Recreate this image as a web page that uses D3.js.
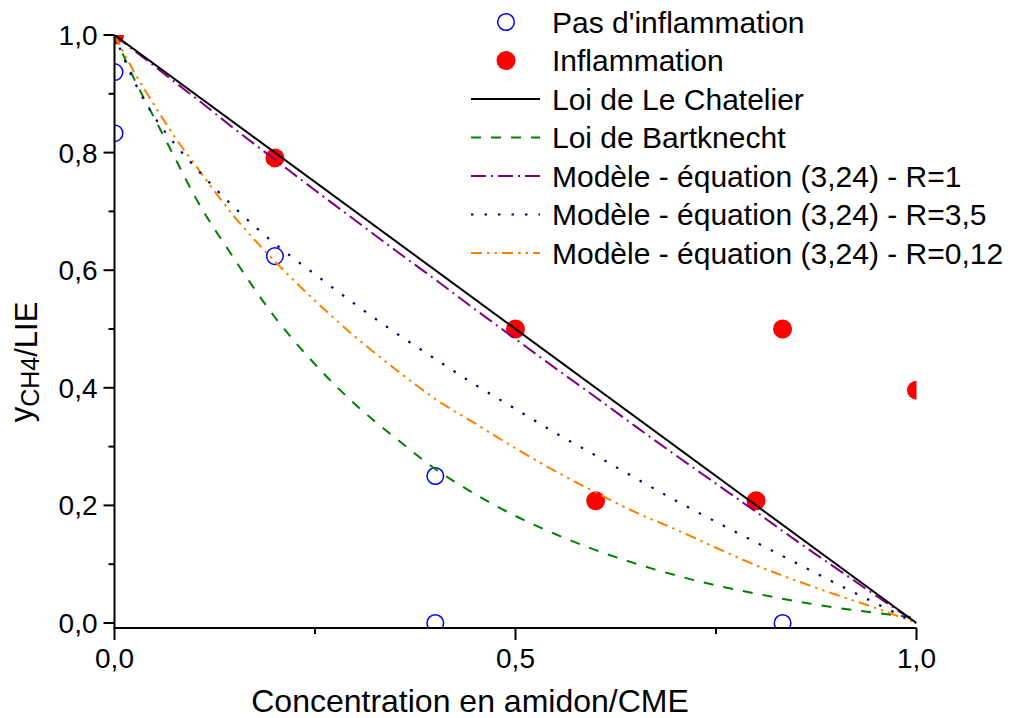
<!DOCTYPE html>
<html>
<head>
<meta charset="utf-8">
<script src="https://cdn.jsdelivr.net/npm/d3@7"></script>
<style>
  html, body { margin: 0; padding: 0; background: #fff; }
  svg { display: block; font-family: "Liberation Sans", Arial, sans-serif; }
</style>
</head>
<body>
<svg id="chart" width="1013" height="718"></svg>
<script>
// ---------- data ----------
const noIgnitionX = [0, 0, 0.2, 0.4, 0.4, 0.833];
const noIgnitionY = [0.937, 0.833, 0.624, 0.25, 0, 0];

const ignitionX = [0, 0.2, 0.5, 0.6, 0.8, 0.833, 1.0];
const ignitionY = [1.0, 0.791, 0.5, 0.208, 0.208, 0.5, 0.396];

const chatelierX = [0, 1];
const chatelierY = [1, 0];

const curveX = [0, 0.025, 0.05, 0.075, 0.1, 0.15, 0.2, 0.25, 0.3, 0.35, 0.4, 0.45,
                0.5, 0.55, 0.6, 0.65, 0.7, 0.75, 0.8, 0.85, 0.9, 0.95, 1.0];
const bartknechtY = [1.0, 0.924, 0.858, 0.792, 0.726, 0.618, 0.52, 0.44, 0.372, 0.315, 0.262, 0.219,
                     0.182, 0.151, 0.124, 0.101, 0.081, 0.064, 0.050, 0.037, 0.026, 0.017, 0.009];
const modelR1Y = [1.0, 0.973, 0.947, 0.920, 0.894, 0.840, 0.788, 0.736, 0.685, 0.634, 0.584, 0.533,
                  0.483, 0.433, 0.384, 0.334, 0.285, 0.237, 0.189, 0.140, 0.093, 0.046, 0.0];
const modelR35Y = [1.0, 0.920, 0.860, 0.815, 0.776, 0.706, 0.645, 0.593, 0.542, 0.494, 0.449, 0.405,
                   0.364, 0.323, 0.285, 0.246, 0.208, 0.172, 0.137, 0.102, 0.067, 0.033, 0.0];
const modelR012Y = [1.0, 0.936, 0.880, 0.827, 0.780, 0.690, 0.615, 0.548, 0.487, 0.432, 0.381, 0.339,
                    0.297, 0.258, 0.222, 0.188, 0.159, 0.128, 0.098, 0.072, 0.048, 0.025, 0.0];

const xMajorTicks = [0, 0.5, 1.0];
const xMinorTicks = [0.25, 0.75];
const yMajorTicks = [0, 0.2, 0.4, 0.6, 0.8, 1.0];
const yMinorTicks = [0.1, 0.3, 0.5, 0.7, 0.9];

const legendLabels = [
  "Pas d'inflammation",
  "Inflammation",
  "Loi de Le Chatelier",
  "Loi de Bartknecht",
  "Modèle - équation (3,24) - R=1",
  "Modèle - équation (3,24) - R=3,5",
  "Modèle - équation (3,24) - R=0,12"
];

// ---------- layout ----------
const svg = d3.select("#chart");
const x = d3.scaleLinear().domain([0, 1]).range([114.5, 916.5]);
const y = d3.scaleLinear().domain([0, 1]).range([623, 35]);
const yBottom = -0.0085;
const fmt = d => d3.format(".1f")(d).replace(".", ",");

const styles = {
  chatelier: { color: "#000000", dash: null, width: 2 },
  bart:      { color: "#008000", dash: "10,10", width: 2 },
  r1:        { color: "#800080", dash: "15,5,2,5", width: 2 },
  r35:       { color: "#000080", dash: "2.5,11", width: 2.2 },
  r012:      { color: "#FF8000", dash: "11,5,2.5,5,2.5,5", width: 2 }
};

// clip region
svg.append("defs").append("clipPath").attr("id", "plotClip")
  .append("rect")
  .attr("x", x(0)).attr("y", y(1))
  .attr("width", x(1) - x(0)).attr("height", y(yBottom) - y(1));

const plot = svg.append("g").attr("clip-path", "url(#plotClip)");

// markers
plot.selectAll("circle.open").data(noIgnitionX.map((d, i) => [d, noIgnitionY[i]]))
  .join("circle").attr("class", "open")
  .attr("cx", d => x(d[0])).attr("cy", d => y(d[1])).attr("r", 8.3)
  .attr("fill", "none").attr("stroke", "#0000FF").attr("stroke-width", 1.5);

plot.selectAll("circle.filled").data(ignitionX.map((d, i) => [d, ignitionY[i]]))
  .join("circle").attr("class", "filled")
  .attr("cx", d => x(d[0])).attr("cy", d => y(d[1])).attr("r", 9.5)
  .attr("fill", "#FF0000");

// lines
const line = d3.line().x(d => x(d[0])).y(d => y(d[1])).curve(d3.curveMonotoneX);
function drawSeries(xs, ys, st) {
  plot.append("path")
    .datum(xs.map((d, i) => [d, ys[i]]))
    .attr("d", line)
    .attr("fill", "none")
    .attr("stroke", st.color)
    .attr("stroke-width", st.width)
    .attr("stroke-dasharray", st.dash);
}
drawSeries(curveX, bartknechtY, styles.bart);
drawSeries(curveX, modelR012Y, styles.r012);
drawSeries(curveX, modelR35Y, styles.r35);
drawSeries(curveX, modelR1Y, styles.r1);
drawSeries(chatelierX, chatelierY, styles.chatelier);

// axes
const axisG = svg.append("g");
axisG.append("line")
  .attr("x1", x(0)).attr("x2", x(0)).attr("y1", y(1)).attr("y2", y(yBottom))
  .attr("stroke", "#000").attr("stroke-width", 2);
axisG.append("line")
  .attr("x1", x(0) - 1).attr("x2", x(1)).attr("y1", y(yBottom)).attr("y2", y(yBottom))
  .attr("stroke", "#000").attr("stroke-width", 2);

// y ticks
axisG.selectAll("line.ymaj").data(yMajorTicks).join("line").attr("class", "ymaj")
  .attr("x1", x(0) - 11).attr("x2", x(0)).attr("y1", d => y(d)).attr("y2", d => y(d))
  .attr("stroke", "#000").attr("stroke-width", 2);
axisG.selectAll("line.ymin").data(yMinorTicks).join("line").attr("class", "ymin")
  .attr("x1", x(0) - 6).attr("x2", x(0)).attr("y1", d => y(d)).attr("y2", d => y(d))
  .attr("stroke", "#000").attr("stroke-width", 2);
axisG.selectAll("text.ylab").data(yMajorTicks).join("text").attr("class", "ylab")
  .attr("x", x(0) - 17).attr("y", d => y(d) + 10)
  .attr("text-anchor", "end").attr("font-size", 28).text(fmt);

// x ticks
axisG.selectAll("line.xmaj").data(xMajorTicks).join("line").attr("class", "xmaj")
  .attr("x1", d => x(d)).attr("x2", d => x(d)).attr("y1", y(yBottom)).attr("y2", y(yBottom) + 12)
  .attr("stroke", "#000").attr("stroke-width", 2);
axisG.selectAll("line.xmin").data(xMinorTicks).join("line").attr("class", "xmin")
  .attr("x1", d => x(d)).attr("x2", d => x(d)).attr("y1", y(yBottom)).attr("y2", y(yBottom) + 6)
  .attr("stroke", "#000").attr("stroke-width", 2);
axisG.selectAll("text.xlab").data(xMajorTicks).join("text").attr("class", "xlab")
  .attr("x", d => x(d)).attr("y", 668)
  .attr("text-anchor", "middle").attr("font-size", 28).text(fmt);

// axis titles
svg.append("text")
  .attr("x", 470).attr("y", 712)
  .attr("text-anchor", "middle").attr("font-size", 32)
  .text("Concentration en amidon/CME");

const yt = svg.append("text")
  .attr("transform", "translate(32,362) rotate(-90)")
  .attr("text-anchor", "middle").attr("font-size", 31);
yt.append("tspan").text("y");
yt.append("tspan").attr("font-size", 25).attr("dy", 7).text("CH4");
yt.append("tspan").attr("dy", -2).text("/LIE");

// legend
const legX0 = 471, legX1 = 540, legTextX = 552, legY0 = 22, legStep = 38.5;
const leg = svg.append("g");
legendLabels.forEach((lab, i) => {
  const cy = legY0 + i * legStep;
  if (i === 0) {
    leg.append("circle").attr("cx", 506).attr("cy", cy).attr("r", 8.3)
      .attr("fill", "none").attr("stroke", "#0000FF").attr("stroke-width", 1.5);
  } else if (i === 1) {
    leg.append("circle").attr("cx", 506).attr("cy", cy).attr("r", 9.5).attr("fill", "#FF0000");
  } else {
    const st = [styles.chatelier, styles.bart, styles.r1, styles.r35, styles.r012][i - 2];
    leg.append("line").attr("x1", legX0).attr("x2", legX1).attr("y1", cy).attr("y2", cy)
      .attr("stroke", st.color).attr("stroke-width", st.width).attr("stroke-dasharray", st.dash);
  }
  leg.append("text").attr("x", legTextX).attr("y", cy + 10.5)
    .attr("font-size", 30).text(lab);
});
</script>
</body>
</html>
